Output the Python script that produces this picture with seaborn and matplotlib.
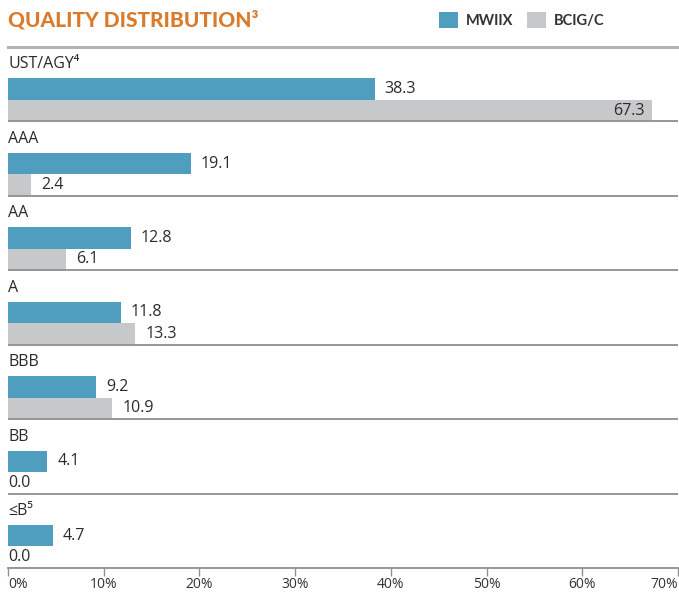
import matplotlib
matplotlib.use("Agg")
import matplotlib.pyplot as plt
import seaborn as sns
import pandas as pd

# Credit-quality breakdown (% of portfolio)
categories = ["UST/AGY\u2074", "AAA", "AA", "A", "BBB", "BB", "\u2264B\u2075"]
mwiix = [38.3, 19.1, 12.8, 11.8, 9.2, 4.1, 4.7]
bcigc = [67.3, 2.4, 6.1, 13.3, 10.9, 0.0, 0.0]
series = ["MWIIX", "BCIG/C"]
colors = ["#4f9dbf", "#c7c8ca"]
xticks = [0, 10, 20, 30, 40, 50, 60, 70]
xtick_labels = [f"{t}%" for t in xticks]
title = "QUALITY DISTRIBUTION\u00b3"

df = pd.DataFrame({
    "Quality": categories * 2,
    "Fund": [series[0]] * len(categories) + [series[1]] * len(categories),
    "Weight": mwiix + bcigc,
})

sns.set_theme(style="white")
plt.rcParams["font.family"] = ["Open Sans", "DejaVu Sans"]
text_color = "#2b2b2b"

W, H = 679, 594
fig = plt.figure(figsize=(W / 100, H / 100), dpi=100)
ax = fig.add_axes([8 / W, 26 / H, 670 / W, 521 / H])

sns.barplot(data=df, x="Weight", y="Quality", hue="Fund", order=categories,
            hue_order=series, palette=colors, orient="h", width=0.576,
            saturation=1, linewidth=0, ax=ax)

n = len(categories)
ax.set_xlim(0, 70)
ax.set_ylim(n - 1 + 0.29, -0.71)
ax.set_xlabel("")
ax.set_ylabel("")
ax.set_yticks([])

# group separators
for i in range(n - 1):
    ax.axhline(i + 0.29, color="#8f8f8f", lw=1.3, zorder=1)

for side in ("left", "right"):
    ax.spines[side].set_visible(False)
ax.spines["top"].set_color("#b3b3b3")
ax.spines["top"].set_linewidth(2.2)
ax.spines["bottom"].set_color("#8f8f8f")
ax.spines["bottom"].set_linewidth(1.3)

ax.set_xticks(xticks)
ax.set_xticklabels(xtick_labels)
ax.tick_params(axis="x", bottom=True, direction="out", length=6, width=1,
               color="#8f8f8f", labelsize=10, labelcolor="#333333", pad=0.5)
tl = ax.get_xticklabels()
tl[0].set_ha("left")
tl[-1].set_ha("right")

# category names above each pair of bars
for i, cat in enumerate(categories):
    ax.text(0, i - 0.475, cat, ha="left", va="center", fontsize=11.5,
            color=text_color)

# value labels
for container, values in zip(ax.containers, [mwiix, bcigc]):
    for bar, v in zip(container, values):
        yc = bar.get_y() + bar.get_height() / 2
        if v > 60:
            ax.annotate(f"{v:.1f}", (v, yc), xytext=(-8, 0),
                        textcoords="offset pixels", ha="right", va="center",
                        fontsize=11.5, color=text_color)
        else:
            off = 10 if v > 0 else 0
            ax.annotate(f"{v:.1f}", (v, yc), xytext=(off, 0),
                        textcoords="offset pixels", ha="left", va="center",
                        fontsize=11.5, color=text_color)

sns.move_legend(ax, "center left", bbox_to_anchor=(426 / W, 1 - 20 / H),
                bbox_transform=fig.transFigure, ncol=2, frameon=False,
                title=None, handlelength=1.3, handleheight=1.3,
                handletextpad=0.55, columnspacing=0.95,
                prop={"weight": "bold", "size": 10.5,
                      "family": ["Lato", "DejaVu Sans"]})
for t in ax.get_legend().get_texts():
    t.set_color("#333333")

fig.text(8 / W, 1 - 20 / H, title, color="#d97b2b", fontsize=15,
         fontweight="black", ha="left", va="center",
         family=["Lato", "DejaVu Sans"])

fig.savefig("out.png", dpi=100)
